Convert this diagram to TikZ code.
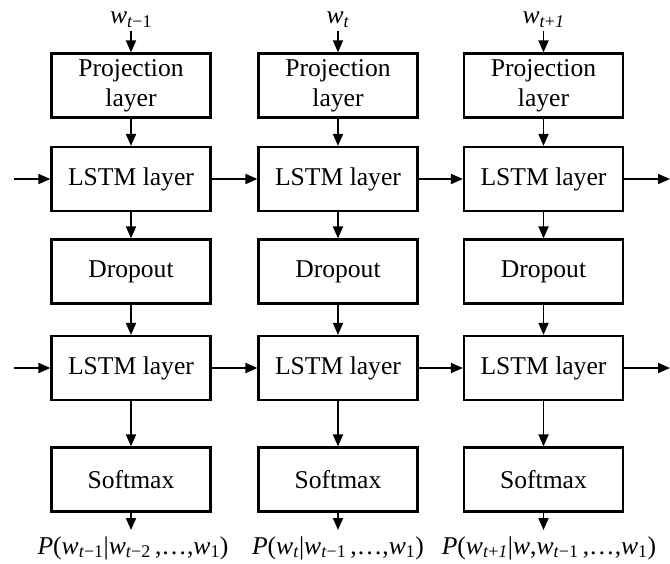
\documentclass[tikz,border=0pt]{standalone}
\usepackage{fontspec}
\setmainfont{Liberation Serif}
\usetikzlibrary{arrows.meta}
\newcommand{\wi}[1]{\textit{w}\textsubscript{#1}}
\begin{document}
\begin{tikzpicture}[x=1pt,y=-1pt,
  layerbox/.style={draw,line width=2.2pt,minimum width=159pt,minimum height=64pt,inner sep=0pt,
    font=\fontsize{25.6}{30}\selectfont,align=center},
  lbl/.style={inner sep=0pt,font=\fontsize{25.6}{30}\selectfont},
  arr/.style={line width=1.8pt,-{Triangle[length=12pt,width=10pt]}}]
\useasboundingbox (0,0) rectangle (670,563);
% columns
\foreach \c/\x in {1/131,2/338,3/543.5}{
  \node[layerbox] (p\c) at (\x,85.5) {Projection\\layer};
  \node[layerbox] (la\c) at (\x,179) {LSTM layer};
  \node[layerbox] (d\c) at (\x,271.5) {Dropout};
  \node[layerbox] (lb\c) at (\x,368) {LSTM layer};
  \node[layerbox] (s\c) at (\x,479.5) {Softmax};
  \coordinate (in\c) at (\x,31);
  \coordinate (out\c) at (\x,530);
  \draw[arr] (in\c) -- (p\c);
  \draw[arr] (p\c) -- (la\c);
  \draw[arr] (la\c) -- (d\c);
  \draw[arr] (d\c) -- (lb\c);
  \draw[arr] (lb\c) -- (s\c);
  \draw[arr] (s\c) -- (out\c);
}
% top labels
\node[lbl] (w1) at (131,20) {\wi{\textit{t}−1}};
\node[lbl] (w2) at (338,20) {\wi{\textit{t}}};
\node[lbl] (w3) at (543.5,20) {\wi{\textit{t}+\textit{1}}};
% bottom labels
\node[lbl] (o1) at (133,548) {\textit{P}(\wi{\textit{t}−1}|\wi{\textit{t}−2}\,,…,\wi{1})};
\node[lbl] (o2) at (338,548) {\textit{P}(\wi{\textit{t}}|\wi{\textit{t}−1}\,,…,\wi{1})};
\node[lbl] (o3) at (549,548) {\textit{P}(\wi{\textit{t}+\textit{1}}|\textit{w},\wi{\textit{t}−1}\,,…,\wi{1})};
% horizontal recurrent connections
\coordinate (ina) at (14,179);
\coordinate (inb) at (14,368);
\coordinate (outa) at (670,179);
\coordinate (outb) at (670,368);
\draw[arr] (ina) -- (la1);
\draw[arr] (la1) -- (la2);
\draw[arr] (la2) -- (la3);
\draw[arr] (la3) -- (outa);
\draw[arr] (inb) -- (lb1);
\draw[arr] (lb1) -- (lb2);
\draw[arr] (lb2) -- (lb3);
\draw[arr] (lb3) -- (outb);
\end{tikzpicture}
\end{document}
